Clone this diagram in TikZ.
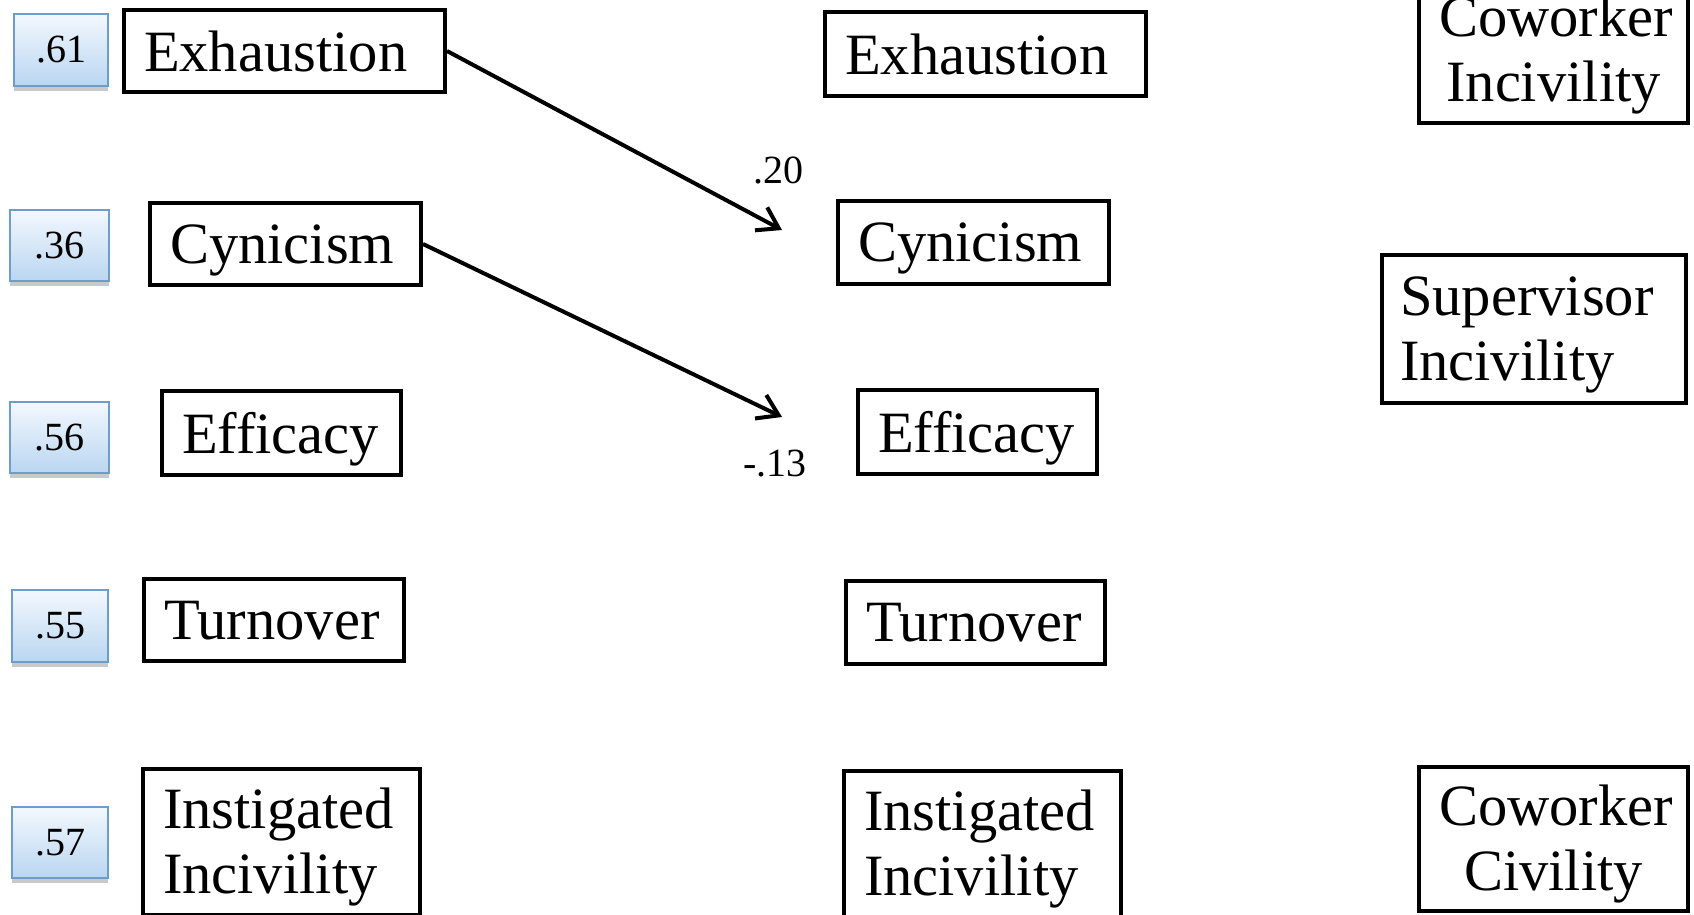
\documentclass[tikz,border=0pt]{standalone}
\usepackage{fontspec}
\setmainfont{Liberation Serif}
\usetikzlibrary{arrows.meta,shadows}
\definecolor{boxtop}{HTML}{F3F8FE}
\definecolor{boxbot}{HTML}{B9D6F1}
\definecolor{boxline}{HTML}{6F9DCB}
\tikzset{
  varbase/.style={draw, line width=4pt, inner xsep=20pt, inner ysep=0pt, align=left,
    font=\fontsize{58.5}{65}\selectfont},
  var/.style={varbase, text depth=0pt},
  vartwo/.style={varbase, text height=51pt},
  vartwoc/.style={vartwo, align=center},
  rsq/.style={draw=boxline, line width=1.5pt, top color=boxtop, bottom color=boxbot,
    inner sep=0pt, font=\fontsize{40}{46}\selectfont,
    drop shadow={shadow xshift=0pt, shadow yshift=-5pt, opacity=0.3, fill=black!70}},
  coef/.style={inner sep=0pt, font=\fontsize{40}{46}\selectfont},
  path/.style={line width=4pt, -{Straight Barb[length=20pt,width=26pt,line width=4pt]}}
}
\begin{document}
\begin{tikzpicture}[x=1pt,y=-1pt]
\useasboundingbox (0,0) rectangle (1694,915);
% left column
\node[var, minimum height=82pt, text width=281pt] (L1) at (284.5,51) {Exhaustion};
\node[var, minimum height=82pt, text width=231pt] (L2) at (285.5,244) {Cynicism};
\node[var, minimum height=84pt, text width=199pt] (L3) at (281.5,433) {Efficacy};
\node[var, minimum height=82pt, text width=220pt] (L4) at (274,620) {Turnover};
\node[vartwo, minimum height=146pt, text width=237pt] (L5) at (281.5,842) {Instigated\\Incivility};
% middle column
\node[var, minimum height=84pt, text width=281pt] (R1) at (985.5,54) {Exhaustion};
\node[var, minimum height=83pt, text width=231pt] (R2) at (973.5,242.5) {Cynicism};
\node[var, minimum height=84pt, text width=199pt] (R3) at (977.5,432) {Efficacy};
\node[var, minimum height=83pt, text width=219pt] (R4) at (975.5,622.5) {Turnover};
\node[vartwo, minimum height=146pt, text width=237pt] (R5) at (982.5,844) {Instigated\\Incivility};
% right column
\node[vartwoc, minimum height=146pt, text width=229pt] (C1) at (1553.5,50) {Coworker\\Incivility};
\node[vartwo, inner xsep=18pt, minimum height=148pt, text width=268pt] (S1) at (1534,329) {Supervisor\\Incivility};
\node[vartwoc, minimum height=144pt, text width=229pt] (C3) at (1553.5,839) {Coworker\\Civility};
% R-squared boxes
\node[rsq, minimum width=94pt, minimum height=72pt] (B1) at (61,50) {.61};
\node[rsq, minimum width=99pt, minimum height=71pt] (B2) at (59.5,245.5) {.36};
\node[rsq, minimum width=99pt, minimum height=71pt] (B3) at (59.5,437.5) {.56};
\node[rsq, minimum width=96pt, minimum height=72pt] (B4) at (60,626) {.55};
\node[rsq, minimum width=96pt, minimum height=71pt] (B5) at (60,842.5) {.57};
% paths
\coordinate (t1) at (782,230);
\coordinate (t2) at (782,417);
\draw[path] (L1.east) -- (t1);
\draw[path] (L2.east) -- (t2);
\node[coef] (c1) at (778,170) {.20};
\node[coef] (c2) at (775,464) {-.13};
\end{tikzpicture}
\end{document}
